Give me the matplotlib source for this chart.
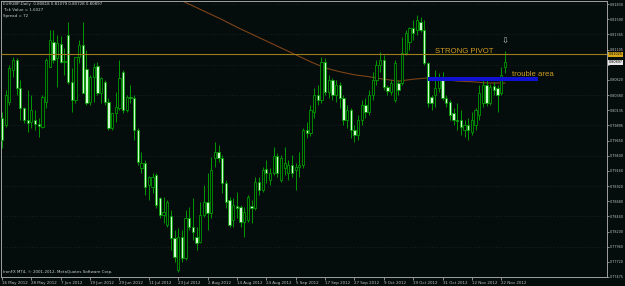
import numpy as np
import pandas as pd
import matplotlib
matplotlib.use('Agg')
import matplotlib.pyplot as plt

# EURGBP daily, 16 May 2012 - 23 Nov 2012
dates = pd.bdate_range('2012-05-16', '2012-11-23')

opens = [0.8001, 0.7990, 0.8027, 0.8078, 0.8094, 0.8049, 0.8017, 0.7998, 0.7995, 0.7998,
         0.7992, 0.7987, 0.8027, 0.8083, 0.8122, 0.8097, 0.8119, 0.8091, 0.8134, 0.8059,
         0.8030, 0.8099, 0.8118, 0.8079, 0.8027, 0.8067, 0.8084, 0.8041, 0.8059, 0.8027,
         0.7985, 0.8009, 0.8017, 0.8075, 0.8014, 0.8035, 0.8033, 0.7982, 0.7921, 0.7929,
         0.7894, 0.7891, 0.7910, 0.7874, 0.7847, 0.7831, 0.7845, 0.7810, 0.7759, 0.7811,
         0.7778, 0.7842, 0.7827, 0.7811, 0.7803, 0.7847, 0.7867, 0.7850, 0.7937, 0.7947,
         0.7937, 0.7898, 0.7870, 0.7839, 0.7861, 0.7859, 0.7835, 0.7838, 0.7861, 0.7858,
         0.7899, 0.7886, 0.7920, 0.7902, 0.7914, 0.7941, 0.7902, 0.7921, 0.7913, 0.7926,
         0.7918, 0.7923, 0.7926, 0.7982, 0.7977, 0.8011, 0.8038, 0.8030, 0.8091, 0.8043,
         0.8062, 0.8038, 0.8054, 0.8033, 0.7998, 0.8014, 0.7982, 0.7974, 0.7998, 0.8022,
         0.8011, 0.8038, 0.8062, 0.8086, 0.8094, 0.8051, 0.8043, 0.8030, 0.8057, 0.8057,
         0.8105, 0.8122, 0.8145, 0.8142, 0.8154, 0.8142, 0.8089, 0.8035, 0.8038, 0.8049,
         0.8062, 0.8033, 0.8027, 0.8009, 0.7998, 0.7998, 0.7982, 0.7990, 0.7979, 0.7990,
         0.8006, 0.8025, 0.8054, 0.8025, 0.8052, 0.8049, 0.8041, 0.80818]
highs = [0.8011, 0.8046, 0.8086, 0.8099, 0.8097, 0.8062, 0.8019, 0.8046, 0.8038, 0.8014,
         0.8001, 0.8038, 0.8097, 0.8142, 0.8142, 0.8134, 0.8132, 0.8113, 0.8154, 0.8081,
         0.8099, 0.8126, 0.8154, 0.8110, 0.8070, 0.8089, 0.8091, 0.8067, 0.8062, 0.8033,
         0.8009, 0.8043, 0.8094, 0.8078, 0.8038, 0.8054, 0.8038, 0.7985, 0.7947, 0.7934,
         0.7909, 0.7914, 0.7914, 0.7875, 0.7875, 0.7870, 0.7854, 0.7823, 0.7826, 0.7823,
         0.7854, 0.7859, 0.7874, 0.7827, 0.7867, 0.7894, 0.7914, 0.7939, 0.7963, 0.7958,
         0.7942, 0.7902, 0.7875, 0.7874, 0.7883, 0.7862, 0.7859, 0.7878, 0.7870, 0.7907,
         0.7907, 0.7923, 0.7934, 0.7921, 0.7955, 0.7945, 0.7942, 0.7955, 0.7934, 0.7942,
         0.7929, 0.7947, 0.7985, 0.7995, 0.8022, 0.8049, 0.8054, 0.8099, 0.8097, 0.8070,
         0.8065, 0.8062, 0.8059, 0.8038, 0.8022, 0.8017, 0.7990, 0.8006, 0.8030, 0.8033,
         0.8046, 0.8075, 0.8094, 0.8107, 0.8102, 0.8054, 0.8062, 0.8094, 0.8062, 0.8130,
         0.8142, 0.8146, 0.8158, 0.8166, 0.8162, 0.8158, 0.8091, 0.8038, 0.8078, 0.8073,
         0.8075, 0.8038, 0.8030, 0.8017, 0.8025, 0.8014, 0.7998, 0.8001, 0.8011, 0.8017,
         0.8054, 0.8065, 0.8062, 0.8055, 0.8059, 0.8054, 0.8083, 0.81079]
lows = [0.7953, 0.7987, 0.8022, 0.8067, 0.8038, 0.7998, 0.7993, 0.7979, 0.7985, 0.7982,
        0.7971, 0.7985, 0.8017, 0.8083, 0.8089, 0.8051, 0.8089, 0.8070, 0.8055, 0.8011,
        0.8025, 0.8089, 0.8041, 0.8022, 0.8022, 0.8027, 0.8038, 0.8025, 0.8022, 0.7982,
        0.7982, 0.7995, 0.8014, 0.8009, 0.8011, 0.8025, 0.7966, 0.7926, 0.7914, 0.7878,
        0.7870, 0.7882, 0.7858, 0.7842, 0.7834, 0.7827, 0.7791, 0.7771, 0.7756, 0.7771,
        0.7775, 0.7823, 0.7807, 0.7791, 0.7802, 0.7843, 0.7823, 0.7842, 0.7923, 0.7931,
        0.7882, 0.7858, 0.7827, 0.7827, 0.7842, 0.7827, 0.7811, 0.7835, 0.7834, 0.7854,
        0.7878, 0.7883, 0.7898, 0.7894, 0.7910, 0.7907, 0.7899, 0.7910, 0.7902, 0.7907,
        0.7886, 0.7907, 0.7921, 0.7969, 0.7972, 0.8001, 0.8022, 0.8025, 0.8038, 0.8033,
        0.8030, 0.8027, 0.8017, 0.7990, 0.7985, 0.7969, 0.7963, 0.7966, 0.7990, 0.8001,
        0.8006, 0.8030, 0.8054, 0.8075, 0.8046, 0.8038, 0.8038, 0.8027, 0.8038, 0.8054,
        0.8102, 0.8110, 0.8126, 0.8134, 0.8138, 0.8086, 0.8019, 0.8014, 0.8019, 0.8043,
        0.8030, 0.8019, 0.7998, 0.7990, 0.7982, 0.7974, 0.7971, 0.7966, 0.7974, 0.7982,
        0.7998, 0.8019, 0.8020, 0.8022, 0.8038, 0.8011, 0.8038, 0.80728]
closes = [0.7966, 0.8038, 0.8081, 0.8094, 0.8049, 0.8017, 0.7998, 0.7993, 0.8014, 0.7992,
          0.7988, 0.8035, 0.8094, 0.8126, 0.8094, 0.8121, 0.8091, 0.8092, 0.8059, 0.8030,
          0.8099, 0.8118, 0.8041, 0.8025, 0.8067, 0.8083, 0.8041, 0.8065, 0.8027, 0.7985,
          0.8009, 0.8019, 0.8065, 0.8014, 0.8035, 0.8033, 0.7982, 0.7931, 0.7929, 0.7891,
          0.7907, 0.7907, 0.7862, 0.7847, 0.7851, 0.7867, 0.7810, 0.7780, 0.7811, 0.7778,
          0.7842, 0.7827, 0.7819, 0.7802, 0.7847, 0.7867, 0.7850, 0.7918, 0.7947, 0.7937,
          0.7898, 0.7867, 0.7831, 0.7862, 0.7858, 0.7835, 0.7851, 0.7875, 0.7858, 0.7899,
          0.7886, 0.7918, 0.7914, 0.7914, 0.7941, 0.7914, 0.7937, 0.7929, 0.7926, 0.7913,
          0.7923, 0.7926, 0.7982, 0.7977, 0.8014, 0.8038, 0.8030, 0.8091, 0.8043, 0.8062,
          0.8038, 0.8054, 0.8033, 0.7998, 0.8014, 0.7982, 0.7974, 0.7998, 0.8022, 0.8011,
          0.8038, 0.8062, 0.8086, 0.8094, 0.8051, 0.8044, 0.8057, 0.8089, 0.8046, 0.8105,
          0.8137, 0.8145, 0.8137, 0.8158, 0.8142, 0.8089, 0.8025, 0.8025, 0.8049, 0.8065,
          0.8033, 0.8025, 0.8006, 0.7998, 0.7996, 0.7987, 0.7990, 0.7982, 0.7998, 0.8014,
          0.8041, 0.8054, 0.8025, 0.8051, 0.8046, 0.8038, 0.8070, 0.80897]

# moving average read at a few bars
ma_bars = [48, 52, 56, 60, 64, 68, 72, 76, 80, 84, 88, 92, 96, 100, 104, 108, 112, 116,
           120, 124, 128, 132, 137]
ma_vals = [0.8191, 0.8180, 0.8169, 0.8158, 0.8146, 0.8135, 0.8124, 0.8113, 0.8102, 0.8091,
           0.8081, 0.8075, 0.8070, 0.8067, 0.8063, 0.8060, 0.8063, 0.8065, 0.8063, 0.8060,
           0.8059, 0.8057, 0.8057]

price_ticks = [0.81830, 0.81588, 0.81346, 0.81104, 0.80862, 0.80620, 0.80378, 0.80136,
               0.79894, 0.79652, 0.79410, 0.79168, 0.78926, 0.78684, 0.78442, 0.78200,
               0.77958, 0.77716, 0.77474]
price_labels = ['0.81830', '0.81590', '0.81345', '0.81105', '', '0.80620', '0.80380',
                '0.80135', '0.79895', '0.79650', '0.79400', '0.79160', '0.78920', '0.78680',
                '0.78440', '0.78200', '0.77960', '0.77720', '0.77475']

pivot = 0.81025
zone_start, zone_end = 116, 146
zone_low, zone_high = 0.8060, 0.8067

bg = '#040c0c'
green = '#009a00'
light = '#d4f8d4'
grey = '#a0a0a0'

fig = plt.figure(figsize=(6.25, 2.86), dpi=100, facecolor=bg)
ax = fig.add_axes([1/625, 9/286, 606/625, 276/286], facecolor=bg)

o = np.array(opens)
h = np.array(highs)
l = np.array(lows)
c = np.array(closes)
x = np.arange(len(o))
up = c >= o

# faint dotted grid
for k in range(0, len(price_ticks), 2):
    ax.axhline(price_ticks[k], color='#263434', lw=0.5, ls=(0, (1, 3)), zorder=0)

ax.plot(ma_bars, ma_vals, color='#7e4418', lw=0.8, zorder=1)

ax.vlines(x, l, h, color=green, lw=0.7, zorder=2)
ax.bar(x[up], (c - o)[up], bottom=o[up], width=0.62, color=bg,
       edgecolor=green, linewidth=0.6, zorder=3)
ax.bar(x[~up], (o - c)[~up], bottom=c[~up], width=0.62, color=light,
       edgecolor=green, linewidth=0.6, zorder=3)

ax.axhline(pivot, color='#9c7c1c', lw=0.8, zorder=4)
ax.fill_between([zone_start, zone_end], zone_low, zone_high, color='#1010d0', lw=0, zorder=4)

ax.text(117.9, 0.81049, 'STRONG PIVOT', color='#d29c22', fontsize=5.6,
        family='Liberation Sans', va='baseline', zorder=5)
ax.text(138.9, 0.80674, 'trouble area', color='#d29c22', fontsize=5.6,
        family='Liberation Sans', va='baseline', zorder=5)
ax.text(137, 0.81240, '\u21e9', color='#c8c8c8', fontsize=6, ha='center',
        va='center', zorder=5)

ax.set_xlim(-0.27, 164.8)
ax.set_ylim(0.77476, 0.81878)

ax.yaxis.tick_right()
ax.set_yticks(price_ticks)
ax.set_yticklabels(price_labels)
ax.set_xticks(x[::8])
ax.set_xticklabels([f'{d.day} {d:%b %Y}' for d in dates[::8]], ha='left')
ax.tick_params(axis='y', length=1.6, width=0.6, color=grey, labelsize=2.45,
               labelcolor='#c0c0c0', pad=0.6)
ax.tick_params(axis='x', length=2, width=0.6, color=grey, labelsize=2.9,
               labelcolor='#c0c0c0', pad=1.0)
for s in ax.spines.values():
    s.set_color(grey)
    s.set_linewidth(0.7)

tr = ax.get_yaxis_transform()
ax.text(1.0025, pivot, f'{pivot:.5f}', transform=tr, fontsize=2.45, color='black',
        va='center', ha='left', bbox=dict(boxstyle='square,pad=0.15', fc='#d8a818', ec='none'),
        clip_on=False, zorder=6)
ax.text(1.0025, closes[-1], f'{closes[-1]:.5f}', transform=tr, fontsize=2.45, color='black',
        va='center', ha='left', bbox=dict(boxstyle='square,pad=0.15', fc='#e8e8e8', ec='none'),
        clip_on=False, zorder=6)

hdr = f'EURGBP,Daily  {opens[-1]:.5f} {highs[-1]:.5f} {lows[-1]:.5f} {closes[-1]:.5f}'
fig.text(3/625, 1 - 4.5/286, hdr, fontsize=2.9, color='#d0d0d0', va='center')
fig.text(3/625, 1 - 10.2/286, 'Tick Value = 1.6027', fontsize=2.9, color='#d0d0d0', va='center')
fig.text(3/625, 1 - 15.8/286, 'Spread = 72', fontsize=2.9, color='#d0d0d0', va='center')
fig.text(3/625, 1 - 272.5/286, 'IronFX MT4, \u00a9 2001-2012, MetaQuotes Software Corp.',
         fontsize=2.9, color='#d0d0d0', va='center')

fig.savefig('out.png', dpi=100, facecolor=bg)
